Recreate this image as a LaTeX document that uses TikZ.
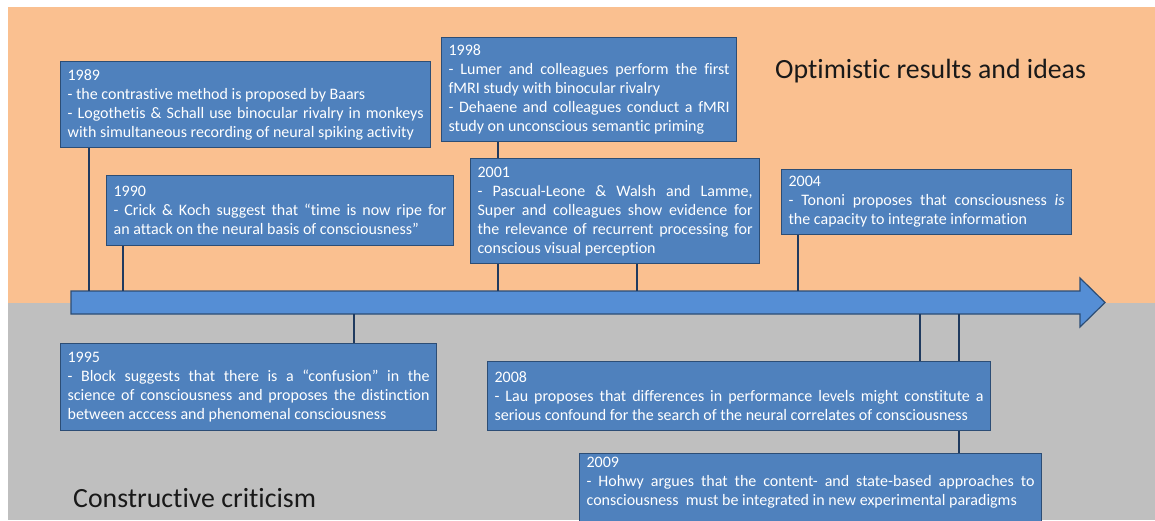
\documentclass[tikz,border=0pt]{standalone}
\usepackage{fontspec}
\setmainfont{Carlito}[Ligatures=NoCommon]
\definecolor{peach}{HTML}{FAC090}
\definecolor{silver}{HTML}{BFBFBF}
\definecolor{boxblue}{HTML}{4F81BD}
\definecolor{boxline}{HTML}{2C4D75}
\definecolor{linkblue}{HTML}{1F3A5F}
\definecolor{lineblue}{HTML}{558ED5}
\tikzset{event/.style = {draw=boxline, line width=1.2pt, fill=boxblue, text=white,
                         font=\fontsize{16}{19}\selectfont, inner xsep=7pt, inner ysep=4pt,
                         anchor=north west, align=justify}}
\tikzset{link/.style = {draw=linkblue, line width=2.6pt}}
\tikzset{heading/.style = {font=\fontsize{27.8}{32}\selectfont, text=black!90, anchor=base west, inner sep=0}}
\tikzset{timeline/.style = {fill=lineblue, draw=boxline, line width=1.2pt}}

\begin{document}
\begin{tikzpicture}[x=1pt, y=-1pt]
  \useasboundingbox (0,0) rectangle (1155,520);
  \fill [peach] (8,7) rectangle (1155,303);
  \fill [silver] (8,303) rectangle (1155,520);
  \node [heading] (optimistic) at (775,78) {Optimistic results and ideas};
  \node [heading] (criticism) at (73,507) {Constructive criticism};
  % time axis
  \draw [timeline] (71,291) -- (1080,291) -- (1080,278) -- (1105,302.5)
        -- (1080,327) -- (1080,314) -- (71,314) -- cycle;
  \coordinate (m1989) at (89,291);
  \coordinate (m1990) at (123,291);
  \coordinate (m1998) at (498,291);
  \coordinate (m2001) at (637,291);
  \coordinate (m2004) at (798,291);
  \coordinate (m1995) at (354,314);
  \coordinate (m2008) at (920,314);
  \coordinate (m2009) at (959,314);
  % above the axis
  \node [event, text width=356, minimum height=86] (b1989) at (60,61)
        {1989\\- the contrastive method is proposed by Baars\\- Logothetis \& Schall use binocular rivalry in monkeys\linebreak with simultaneous recording of neural spiking activity};
  \node [event, text width=333, minimum height=70] (b1990) at (106,175)
        {1990\\- Crick \& Koch suggest that “time is now ripe for\linebreak an attack on the neural basis of consciousness”};
  \node [event, text width=281, minimum height=104] (b1998) at (441,37)
        {1998\\- Lumer and colleagues perform the first\linebreak fMRI study with binocular rivalry\\- Dehaene and colleagues conduct a fMRI\linebreak study on unconscious semantic priming};
  \node [event, text width=275, minimum height=105] (b2001) at (470,158)
        {2001\\- Pascual-Leone \& Walsh and Lamme,\linebreak Super and colleagues show evidence for\linebreak the relevance of recurrent processing for\linebreak conscious visual perception};
  \node [event, text width=276, minimum height=65] (b2004) at (781,169)
        {2004\\- Tononi proposes that consciousness \textit{is}\linebreak the capacity to integrate information};
  % below the axis
  \node [event, text width=362, minimum height=87] (b1995) at (60,343)
        {1995\\- Block suggests that there is a “confusion” in the\linebreak science of consciousness and proposes the distinction\linebreak between acccess and phenomenal consciousness};
  \node [event, text width=489, minimum height=69] (b2008) at (487,361)
        {2008\\- Lau proposes that differences in performance levels might constitute a\linebreak serious confound for the search of the neural correlates of consciousness};
  \node [event, text width=448] (b2009) at (579,453)
        {2009\\- Hohwy argues that the content- and state-based approaches to\linebreak consciousness\ \ must be integrated in new experimental paradigms\rule[-24pt]{0pt}{24pt}};
  % connectors
  \draw [link] (m1989 |- b1989.south) -- (m1989);
  \draw [link] (m1990 |- b1990.south) -- (m1990);
  \draw [link] (m1998 |- b1998.south) -- (m1998 |- b2001.north);
  \draw [link] (m1998 |- b2001.south) -- (m1998);
  \draw [link] (m2001 |- b2001.south) -- (m2001);
  \draw [link] (m2004 |- b2004.south) -- (m2004);
  \draw [link] (m1995) -- (m1995 |- b1995.north);
  \draw [link] (m2008) -- (m2008 |- b2008.north);
  \draw [link] (m2009) -- (m2009 |- b2008.north);
  \draw [link] (m2009 |- b2008.south) -- (m2009 |- b2009.north);
\end{tikzpicture}
\end{document}
